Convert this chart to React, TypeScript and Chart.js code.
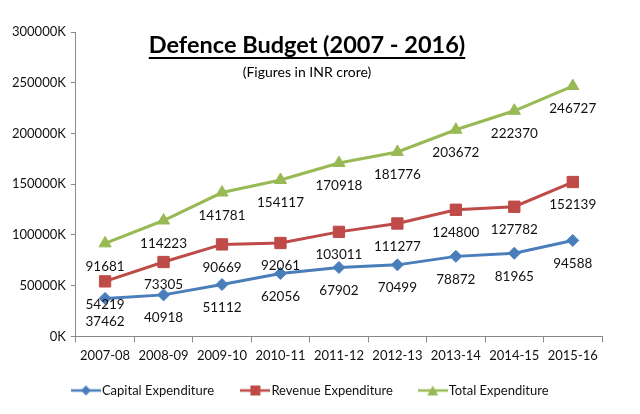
import React, { useEffect, useRef } from "react";
import { Chart, registerables } from "chart.js";

Chart.register(...registerables);

const categories = ["2007-08", "2008-09", "2009-10", "2010-11", "2011-12", "2012-13", "2013-14", "2014-15", "2015-16"];
const capital = [37462, 40918, 51112, 62056, 67902, 70499, 78872, 81965, 94588];
const revenue = [54219, 73305, 90669, 92061, 103011, 111277, 124800, 127782, 152139];
const total = [91681, 114223, 141781, 154117, 170918, 181776, 203672, 222370, 246727];
const seriesNames = ["Capital Expenditure", "Revenue Expenditure", "Total Expenditure"];
const titleText = "Defence Budget (2007 - 2016)";
const subtitleText = "(Figures in INR crore)";

const FONT = 'Lato, "Open Sans", sans-serif';
const BLUE = "#4A7EBB";
const RED = "#BE4B48";
const GREEN = "#98B954";

function legendIcon(color: string, style: string): HTMLCanvasElement {
  const c = document.createElement("canvas");
  c.width = 30;
  c.height = 12;
  const ctx = c.getContext("2d")!;
  ctx.strokeStyle = color;
  ctx.lineWidth = 2.5;
  ctx.beginPath();
  ctx.moveTo(0, 6);
  ctx.lineTo(30, 6);
  ctx.stroke();
  ctx.fillStyle = color;
  ctx.beginPath();
  if (style === "rectRot") {
    ctx.moveTo(15, 1); ctx.lineTo(20, 6); ctx.lineTo(15, 11); ctx.lineTo(10, 6);
  } else if (style === "rect") {
    ctx.rect(10, 1, 10, 10);
  } else {
    ctx.moveTo(15, 1); ctx.lineTo(20.5, 11); ctx.lineTo(9.5, 11);
  }
  ctx.closePath();
  ctx.fill();
  return c;
}

const titlePlugin = {
  id: "titleOverlay",
  beforeDraw(chart: any) {
    const lg = chart.legend;
    if (lg && !lg._shifted) {
      lg.left += 8;
      lg.right += 8;
      lg._shifted = true;
    }
  },
  afterDraw(chart: any) {
    const ctx = chart.ctx;
    ctx.save();
    ctx.fillStyle = "#000";
    ctx.textAlign = "center";
    ctx.textBaseline = "alphabetic";
    ctx.font = `bold 23.5px ${FONT}`;
    const cx = 307;
    ctx.fillText(titleText, cx, 53);
    const w = ctx.measureText(titleText).width;
    ctx.fillRect(cx - w / 2, 57, w, 2);
    ctx.font = `14px ${FONT}`;
    ctx.fillText(subtitleText, cx, 77);
    ctx.restore();
  },
};

const labelPlugin = {
  id: "pointLabels",
  afterDatasetsDraw(chart: any) {
    const ctx = chart.ctx;
    ctx.save();
    ctx.fillStyle = "#111";
    ctx.font = `13.5px ${FONT}`;
    ctx.textAlign = "center";
    ctx.textBaseline = "middle";
    chart.data.datasets.forEach((ds: any, i: number) => {
      const meta = chart.getDatasetMeta(i);
      meta.data.forEach((pt: any, j: number) => {
        ctx.fillText(String(ds.data[j]), pt.x, pt.y + 23);
      });
    });
    ctx.restore();
  },
};

export default function App() {
  const ref = useRef<HTMLCanvasElement>(null);
  useEffect(() => {
    document.body.style.margin = "0";
    const styles = ["rectRot", "rect", "triangle"];
    const colors = [BLUE, RED, GREEN];
    const gaps = ["\u2003\u2002\u2009", "\u2003\u2002", ""];
    const chart = new Chart(ref.current!, {
      type: "line",
      data: {
        labels: categories,
        datasets: [
          { label: seriesNames[0], data: capital, borderColor: BLUE, backgroundColor: BLUE, pointStyle: "rectRot", pointRadius: 6, pointBorderWidth: 1, borderWidth: 3 },
          { label: seriesNames[1], data: revenue, borderColor: RED, backgroundColor: RED, pointStyle: "rect", pointRadius: 8, pointBorderWidth: 1, borderWidth: 3 },
          { label: seriesNames[2], data: total, borderColor: GREEN, backgroundColor: GREEN, pointStyle: "triangle", pointRadius: 7, pointBorderWidth: 1, borderWidth: 3 },
        ],
      },
      options: {
        animation: false,
        responsive: true,
        maintainAspectRatio: false,
        layout: { padding: { left: 7, right: 38, top: 32, bottom: 7 } },
        plugins: {
          tooltip: { enabled: false },
          legend: {
            position: "bottom",
            labels: {
              usePointStyle: true,
              pointStyleWidth: 19,
              font: { family: FONT, size: 13 },
              color: "#111",
              padding: 14,
              generateLabels: (c: any) =>
                c.data.datasets.map((ds: any, i: number) => ({
                  text: ds.label + gaps[i],
                  pointStyle: legendIcon(colors[i], styles[i]),
                  fillStyle: colors[i],
                  strokeStyle: colors[i],
                  lineWidth: 0,
                  hidden: false,
                  datasetIndex: i,
                  fontColor: "#111",
                })),
            },
          },
        },
        scales: {
          x: {
            offset: true,
            grid: { display: true, drawOnChartArea: false, offset: true, tickLength: 6, color: "#888" },
            border: { color: "#888", width: 1 },
            ticks: { font: { family: FONT, size: 13 }, color: "#111", padding: 6, maxRotation: 0 },
          },
          y: {
            min: 0,
            max: 300000,
            grid: { display: true, drawOnChartArea: false, tickLength: 5, color: "#888" },
            border: { color: "#888", width: 1 },
            ticks: {
              stepSize: 50000,
              font: { family: FONT, size: 13 },
              color: "#111",
              padding: 5,
              callback: (v: any) => `${v}K`,
            },
          },
        },
      },
      plugins: [titlePlugin, labelPlugin],
    });
    return () => chart.destroy();
  }, []);
  return (
    <div style={{ width: 640, height: 414, position: "relative", background: "#fff" }}>
      <canvas ref={ref} />
    </div>
  );
}
